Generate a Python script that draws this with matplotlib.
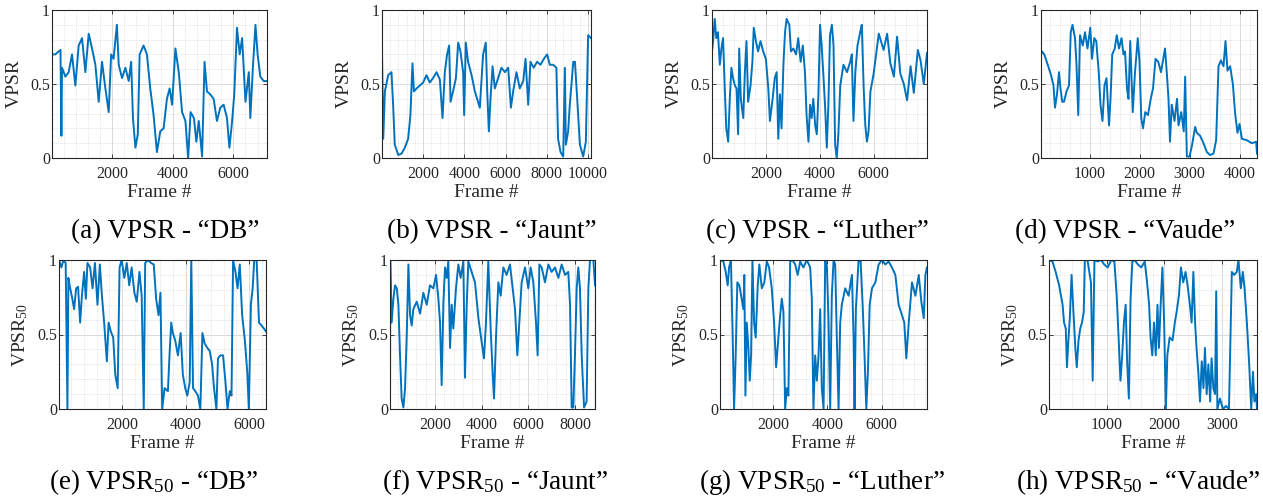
import numpy as np
import matplotlib
matplotlib.use("Agg")
import matplotlib.pyplot as plt
from matplotlib.ticker import FixedLocator, MultipleLocator

plt.rcParams['font.family'] = ['Liberation Serif', 'DejaVu Serif']
plt.rcParams['mathtext.fontset'] = 'custom'
plt.rcParams['mathtext.rm'] = 'Liberation Serif'
plt.rcParams['mathtext.it'] = 'Liberation Serif:italic'
plt.rcParams['mathtext.bf'] = 'Liberation Serif:bold'
plt.rcParams['mathtext.default'] = 'rm'

# VPSR per frame (top row)
db_frames = [20, 130, 240, 300, 330, 350, 460, 570, 680, 790, 900, 1010, 1120, 1230, 1340,
             1450, 1560, 1670, 1780, 1890, 1970, 2050, 2160, 2220, 2330, 2440, 2550, 2630, 2690, 2770,
             2850, 2910, 3040, 3150, 3260, 3370, 3480, 3590, 3700, 3810, 3900, 3980, 4090, 4200, 4310,
             4420, 4510, 4590, 4700, 4780, 4860, 4970, 5050, 5130, 5240, 5350, 5460, 5570, 5680, 5790,
             5870, 5960, 6030, 6120, 6210, 6290, 6400, 6510, 6560, 6650, 6730, 6800, 6890, 7000, 7110]
db_vpsr = [0.70, 0.70, 0.72, 0.73, 0.15, 0.61, 0.55, 0.58, 0.70, 0.49, 0.76, 0.81, 0.58, 0.84, 0.74,
           0.63, 0.38, 0.65, 0.47, 0.31, 0.70, 0.67, 0.90, 0.63, 0.54, 0.61, 0.52, 0.65, 0.27, 0.07,
           0.16, 0.70, 0.76, 0.70, 0.47, 0.29, 0.04, 0.18, 0.20, 0.40, 0.47, 0.36, 0.74, 0.58, 0.31,
           0.25, 0.00, 0.31, 0.27, 0.11, 0.25, 0.01, 0.65, 0.45, 0.43, 0.40, 0.25, 0.34, 0.36, 0.27,
           0.07, 0.25, 0.43, 0.88, 0.70, 0.81, 0.38, 0.58, 0.27, 0.63, 0.90, 0.70, 0.55, 0.52, 0.52]

jaunt_frames = [0, 60, 140, 300, 460, 540, 620, 790, 950, 1110, 1270, 1380, 1480, 1550, 1680,
                1840, 2000, 2160, 2320, 2480, 2650, 2810, 2940, 3050, 3160, 3260, 3330, 3450, 3590, 3700,
                3810, 3940, 3990, 4070, 4180, 4350, 4510, 4620, 4750, 4910, 5040, 5110, 5190, 5270, 5370,
                5480, 5640, 5800, 5970, 6130, 6260, 6370, 6530, 6690, 6860, 6970, 7100, 7210, 7370, 7530,
                7700, 7860, 8020, 8150, 8310, 8470, 8550, 8670, 8800, 8880, 8930, 9040, 9120, 9290, 9370,
                9480, 9610, 9770, 9900, 10010, 10150]
jaunt_vpsr = [0.72, 0.13, 0.45, 0.56, 0.58, 0.36, 0.09, 0.02, 0.03, 0.07, 0.13, 0.29, 0.64, 0.45, 0.47,
              0.49, 0.51, 0.56, 0.51, 0.54, 0.58, 0.53, 0.27, 0.58, 0.70, 0.76, 0.38, 0.45, 0.54, 0.78,
              0.72, 0.58, 0.29, 0.78, 0.65, 0.56, 0.45, 0.40, 0.34, 0.70, 0.78, 0.45, 0.18, 0.40, 0.62,
              0.47, 0.54, 0.61, 0.58, 0.61, 0.34, 0.45, 0.58, 0.47, 0.52, 0.67, 0.36, 0.65, 0.61, 0.65,
              0.63, 0.67, 0.70, 0.63, 0.63, 0.61, 0.13, 0.04, 0.01, 0.61, 0.09, 0.18, 0.36, 0.65, 0.65,
              0.40, 0.09, 0.01, 0.11, 0.83, 0.81]

luther_frames = [0, 40, 100, 160, 220, 290, 350, 410, 470, 530, 600, 660, 720, 780, 850,
                 910, 970, 1010, 1070, 1160, 1220, 1280, 1340, 1430, 1500, 1550, 1630, 1710, 1800, 1900,
                 2000, 2090, 2150, 2250, 2330, 2400, 2460, 2520, 2580, 2650, 2710, 2770, 2870, 2930, 3020,
                 3120, 3200, 3290, 3370, 3450, 3510, 3580, 3640, 3700, 3760, 3830, 3890, 3950, 4010, 4070,
                 4140, 4200, 4260, 4320, 4380, 4450, 4510, 4570, 4630, 4690, 4760, 4820, 4880, 5010, 5130,
                 5190, 5250, 5320, 5400, 5500, 5560, 5630, 5690, 5750, 5810, 5880, 6000, 6190, 6370, 6500,
                 6620, 6750, 6870, 6990, 7120, 7240, 7370, 7490, 7640, 7740, 7860, 7980]
luther_vpsr = [0.72, 0.79, 0.94, 0.81, 0.85, 0.63, 0.74, 0.81, 0.49, 0.20, 0.11, 0.40, 0.61, 0.54, 0.49,
               0.47, 0.16, 0.74, 0.40, 0.27, 0.58, 0.79, 0.38, 0.49, 0.65, 0.88, 0.79, 0.72, 0.79, 0.72,
               0.67, 0.47, 0.25, 0.40, 0.54, 0.58, 0.13, 0.43, 0.20, 0.63, 0.85, 0.94, 0.90, 0.72, 0.74,
               0.70, 0.81, 0.65, 0.76, 0.58, 0.29, 0.11, 0.36, 0.27, 0.40, 0.22, 0.16, 0.43, 0.90, 0.76,
               0.54, 0.34, 0.07, 0.36, 0.83, 0.90, 0.76, 0.09, 0.00, 0.16, 0.49, 0.56, 0.63, 0.58, 0.65,
               0.70, 0.25, 0.58, 0.76, 0.85, 0.90, 0.47, 0.22, 0.11, 0.18, 0.45, 0.57, 0.84, 0.73, 0.84,
               0.64, 0.55, 0.82, 0.57, 0.50, 0.39, 0.62, 0.44, 0.73, 0.66, 0.50, 0.71]

vaude_frames = [30, 50, 95, 165, 230, 280, 310, 350, 390, 420, 455, 490, 540, 590, 625,
                660, 710, 740, 775, 810, 865, 910, 960, 1015, 1050, 1095, 1135, 1185, 1220, 1260,
                1300, 1340, 1390, 1420, 1455, 1505, 1545, 1590, 1640, 1680, 1710, 1750, 1780, 1815, 1865,
                1910, 1965, 2000, 2035, 2070, 2115, 2170, 2225, 2270, 2320, 2375, 2430, 2475, 2510, 2545,
                2580, 2610, 2645, 2700, 2750, 2780, 2835, 2885, 2913, 2947, 3000, 3047, 3113, 3147, 3213,
                3280, 3347, 3413, 3480, 3533, 3580, 3627, 3680, 3720, 3760, 3813, 3867, 3913, 3960, 4000,
                4047, 4147, 4247, 4333, 4350]
vaude_vpsr = [0.70, 0.72, 0.70, 0.63, 0.56, 0.49, 0.34, 0.43, 0.58, 0.47, 0.38, 0.38, 0.45, 0.49, 0.85,
              0.90, 0.81, 0.63, 0.29, 0.83, 0.76, 0.85, 0.74, 0.88, 0.67, 0.81, 0.79, 0.58, 0.36, 0.25,
              0.49, 0.54, 0.22, 0.40, 0.70, 0.74, 0.83, 0.74, 0.81, 0.70, 0.72, 0.47, 0.40, 0.79, 0.31,
              0.58, 0.81, 0.65, 0.27, 0.20, 0.31, 0.29, 0.40, 0.47, 0.67, 0.65, 0.58, 0.67, 0.74, 0.58,
              0.40, 0.11, 0.36, 0.25, 0.40, 0.22, 0.31, 0.18, 0.55, 0.01, 0.01, 0.08, 0.21, 0.17, 0.15,
              0.10, 0.04, 0.02, 0.03, 0.12, 0.62, 0.66, 0.62, 0.79, 0.59, 0.62, 0.50, 0.30, 0.17, 0.23,
              0.13, 0.12, 0.10, 0.11, 0.03]

# VPSR_50 per frame (bottom row)
db50_frames = [20, 95, 160, 230, 285, 315, 370, 440, 495, 560, 620, 685, 740, 810, 865,
               915, 1000, 1075, 1150, 1230, 1305, 1370, 1440, 1525, 1580, 1650, 1725, 1790, 1865, 1925,
               1990, 2075, 2150, 2230, 2305, 2390, 2465, 2550, 2620, 2685, 2730, 2810, 2915, 3000, 3075,
               3150, 3210, 3265, 3340, 3445, 3495, 3550, 3600, 3675, 3760, 3845, 3915, 3990, 4055, 4130,
               4180, 4235, 4305, 4390, 4465, 4530, 4600, 4685, 4760, 4835, 4895, 4970, 5020, 5095, 5180,
               5255, 5320, 5390, 5445, 5495, 5570, 5635, 5705, 5780, 5865, 5940, 5990, 6055, 6110, 6160,
               6235, 6310, 6390, 6465, 6530]
db50_vpsr = [1.00, 0.95, 1.00, 0.98, 0.00, 0.88, 0.81, 0.74, 0.67, 0.81, 0.82, 0.58, 0.76, 0.92, 0.74,
             0.98, 0.95, 0.81, 0.98, 0.70, 0.97, 0.76, 0.58, 0.32, 0.58, 0.52, 0.48, 0.23, 0.14, 0.95,
             1.00, 0.88, 0.98, 0.83, 0.95, 0.78, 0.72, 0.92, 0.76, 0.00, 0.98, 1.00, 0.98, 0.97, 0.74,
             0.63, 0.78, 0.00, 0.14, 0.12, 0.36, 0.58, 0.51, 0.46, 0.36, 0.51, 0.23, 0.14, 0.09, 0.18,
             1.00, 0.14, 0.12, 0.09, 0.00, 0.51, 0.44, 0.41, 0.39, 0.30, 0.14, 0.00, 0.34, 0.36, 0.36,
             0.18, 0.00, 0.12, 0.09, 1.00, 0.92, 0.81, 0.97, 0.63, 0.46, 0.25, 0.00, 0.70, 0.81, 1.00,
             1.00, 0.58, 0.56, 0.54, 0.52]

jaunt50_frames = [70, 80, 140, 215, 285, 360, 430, 500, 570, 645, 715, 785, 860, 930, 1000,
                  1070, 1215, 1360, 1500, 1645, 1785, 1930, 2045, 2145, 2215, 2285, 2360, 2430, 2500, 2570,
                  2645, 2715, 2785, 2900, 3000, 3100, 3215, 3285, 3360, 3430, 3570, 3715, 3860, 4000, 4100,
                  4185, 4285, 4385, 4470, 4530, 4615, 4715, 4815, 4930, 5070, 5215, 5330, 5430, 5530, 5615,
                  5715, 5860, 6000, 6100, 6215, 6330, 6400, 6475, 6575, 6715, 6860, 7000, 7145, 7290, 7430,
                  7575, 7715, 7790, 7860, 7930, 8000, 8075, 8145, 8215, 8290, 8390, 8500, 8575, 8645, 8790,
                  8860]
jaunt50_vpsr = [0.00, 1.00, 0.58, 0.74, 0.83, 0.81, 0.70, 0.36, 0.07, 0.01, 0.14, 0.48, 0.97, 0.63, 0.56,
                0.67, 0.72, 0.64, 0.78, 0.70, 0.83, 0.81, 0.90, 0.74, 0.58, 0.16, 0.72, 0.95, 0.88, 0.99,
                0.41, 0.70, 0.54, 0.81, 0.97, 0.88, 0.99, 0.21, 0.70, 0.99, 0.92, 0.85, 0.61, 0.45, 0.34,
                0.58, 0.99, 0.54, 0.25, 0.07, 0.48, 0.85, 0.76, 0.95, 0.90, 0.97, 0.81, 0.67, 0.36, 0.58,
                0.85, 0.95, 0.81, 0.95, 0.85, 0.58, 0.36, 0.97, 0.95, 0.85, 0.97, 0.92, 0.95, 0.88, 0.97,
                0.90, 0.92, 0.70, 0.01, 0.01, 0.36, 0.81, 0.95, 0.81, 0.36, 0.01, 0.05, 0.81, 1.00, 1.00,
                0.83]

luther50_frames = [25, 150, 235, 310, 360, 430, 495, 545, 605, 665, 740, 825, 890, 925, 965,
                   1015, 1075, 1125, 1175, 1225, 1285, 1345, 1420, 1480, 1570, 1665, 1755, 1840, 1940, 2025,
                   2100, 2185, 2250, 2310, 2370, 2435, 2495, 2555, 2620, 2705, 2805, 2900, 2990, 3110, 3235,
                   3360, 3420, 3480, 3545, 3605, 3670, 3730, 3790, 3855, 3915, 3980, 4040, 4100, 4160, 4225,
                   4285, 4345, 4410, 4470, 4530, 4655, 4780, 4905, 4965, 5000, 5050, 5150, 5225, 5300, 5370,
                   5435, 5495, 5560, 5645, 5770, 5890, 6015, 6140, 6260, 6385, 6510, 6630, 6755, 6840, 6915,
                   7005, 7125, 7250, 7375, 7470, 7560, 7620, 7680]
luther50_vpsr = [1.00, 0.99, 0.92, 0.83, 0.95, 1.00, 0.48, 0.00, 0.36, 0.85, 0.83, 0.74, 0.67, 0.90, 0.09,
                 0.58, 0.41, 0.19, 0.36, 1.00, 0.58, 0.48, 0.83, 0.97, 0.81, 0.85, 0.99, 0.95, 0.81, 0.58,
                 0.28, 0.48, 0.63, 0.74, 0.65, 0.00, 0.14, 0.09, 0.99, 1.00, 0.97, 0.90, 0.99, 0.95, 1.00,
                 0.95, 0.74, 0.00, 0.36, 0.19, 0.36, 0.67, 0.14, 0.00, 1.00, 0.95, 0.58, 0.00, 0.76, 1.00,
                 0.97, 0.48, 0.00, 0.58, 0.70, 0.81, 0.76, 0.90, 0.48, 0.00, 0.67, 1.00, 0.99, 0.70, 0.36,
                 0.00, 0.25, 0.70, 0.81, 0.85, 0.97, 1.00, 0.97, 0.99, 0.95, 0.90, 0.70, 0.63, 0.58, 0.34,
                 0.58, 0.85, 0.76, 0.90, 0.72, 0.61, 0.90, 0.95]

vaude50_frames = [5, 65, 120, 180, 240, 265, 295, 315, 340, 365, 395, 425, 460, 485, 515,
                  545, 575, 605, 625, 670, 730, 760, 790, 845, 905, 960, 1020, 1080, 1135, 1175,
                  1210, 1240, 1270, 1300, 1330, 1355, 1385, 1415, 1445, 1485, 1540, 1600, 1660, 1700, 1735,
                  1760, 1790, 1820, 1850, 1880, 1905, 1935, 1965, 1995, 2025, 2050, 2090, 2140, 2180, 2210,
                  2250, 2285, 2325, 2365, 2400, 2440, 2470, 2500, 2530, 2555, 2585, 2615, 2645, 2675, 2700,
                  2730, 2760, 2790, 2815, 2845, 2875, 2895, 2915, 2960, 3010, 3065, 3115, 3135, 3165, 3205,
                  3250, 3280, 3320, 3355, 3385, 3425, 3465, 3500, 3530, 3555, 3585, 3600]
vaude50_vpsr = [1.00, 0.99, 0.92, 0.83, 0.70, 0.58, 0.54, 0.28, 0.46, 0.61, 0.90, 0.67, 0.41, 0.28, 0.46,
                0.54, 0.58, 0.65, 1.00, 1.00, 0.85, 0.19, 1.00, 0.99, 1.00, 0.97, 0.95, 1.00, 0.99, 0.76,
                0.46, 0.19, 0.36, 0.58, 0.70, 0.32, 0.07, 0.74, 0.99, 1.00, 0.97, 0.95, 0.99, 0.85, 0.70,
                0.48, 0.36, 0.58, 0.36, 0.70, 0.41, 0.70, 0.95, 0.58, 0.00, 0.36, 0.48, 0.46, 0.58, 0.65,
                0.76, 0.95, 0.85, 0.92, 0.83, 0.70, 0.58, 0.92, 0.58, 0.41, 0.25, 0.05, 0.32, 0.14, 0.41,
                0.10, 0.30, 0.05, 0.34, 0.14, 0.10, 0.79, 0.00, 0.07, 0.00, 0.02, 0.00, 0.36, 0.92, 0.90,
                0.92, 1.00, 0.81, 0.92, 0.81, 0.58, 0.30, 0.00, 0.25, 0.05, 0.10, 0.00]

captions = ['(a) VPSR - \u201cDB\u201d', '(b) VPSR - \u201cJaunt\u201d',
            '(c) VPSR - \u201cLuther\u201d', '(d) VPSR - \u201cVaude\u201d',
            '(e) VPSR$_{50}$ - \u201cDB\u201d', '(f) VPSR$_{50}$ - \u201cJaunt\u201d',
            '(g) VPSR$_{50}$ - \u201cLuther\u201d', '(h) VPSR$_{50}$ - \u201cVaude\u201d']
ylabels = ['VPSR'] * 4 + ['VPSR$_{50}$'] * 4
tick_steps = [2000, 2000, 2000, 1000, 2000, 2000, 2000, 1000]

series = [(db_frames, db_vpsr), (jaunt_frames, jaunt_vpsr), (luther_frames, luther_vpsr),
          (vaude_frames, vaude_vpsr), (db50_frames, db50_vpsr), (jaunt50_frames, jaunt50_vpsr),
          (luther50_frames, luther50_vpsr), (vaude50_frames, vaude50_vpsr)]

W, H = 1263, 497
fig = plt.figure(figsize=(W / 100, H / 100), dpi=100)

# axes boxes in pixels: left, right, top, bottom
boxes = [(52, 267, 10, 158), (382, 591, 10, 158), (712, 927, 10, 158), (1041, 1257, 10, 158),
         (59, 266, 260, 409), (390, 595, 260, 409), (720, 927, 260, 409), (1049, 1257, 260, 409)]
cap_x = [165, 492, 817, 1125, 154, 495, 822, 1138]
cap_y = [232, 232, 232, 232, 482, 482, 482, 482]

edge = '#262626'
for i, (frames, vals) in enumerate(series):
    l, r, t, b = boxes[i]
    ax = fig.add_axes([l / W, 1 - b / H, (r - l) / W, (b - t) / H])
    ax.plot(frames, vals, color='#0072BD', lw=1.4)
    ax.set_xlim(frames[0], frames[-1])
    ax.set_ylim(0, 1)
    step = tick_steps[i]
    ax.xaxis.set_major_locator(FixedLocator(np.arange(step, frames[-1] + 1, step)))
    ax.xaxis.set_minor_locator(MultipleLocator(step / 5))
    ax.yaxis.set_major_locator(FixedLocator([0, 0.5, 1]))
    ax.yaxis.set_minor_locator(MultipleLocator(0.1))
    ax.set_yticklabels(['0', '0.5', '1'])
    ax.grid(True, which='major', color='#dadada', lw=0.7)
    ax.grid(True, which='minor', color='#cfcfcf', lw=0.5, ls=':')
    ax.set_axisbelow(True)
    ax.tick_params(which='major', direction='in', length=3, width=0.6, top=True, right=True,
                   labelsize=11.5, colors=edge)
    ax.tick_params(axis='x', pad=6)
    ax.tick_params(axis='y', pad=1.5)
    ax.tick_params(which='minor', length=0)
    for s in ax.spines.values():
        s.set_color(edge)
        s.set_linewidth(0.8)
    ax.set_xlabel('Frame #', fontsize=14, color=edge, labelpad=1)
    ax.set_ylabel(ylabels[i], fontsize=14, color=edge, labelpad=5)
    fig.text(cap_x[i] / W, 1 - cap_y[i] / H, captions[i], fontsize=19.5, ha='center', va='center')

fig.savefig('out.png', dpi=100)
